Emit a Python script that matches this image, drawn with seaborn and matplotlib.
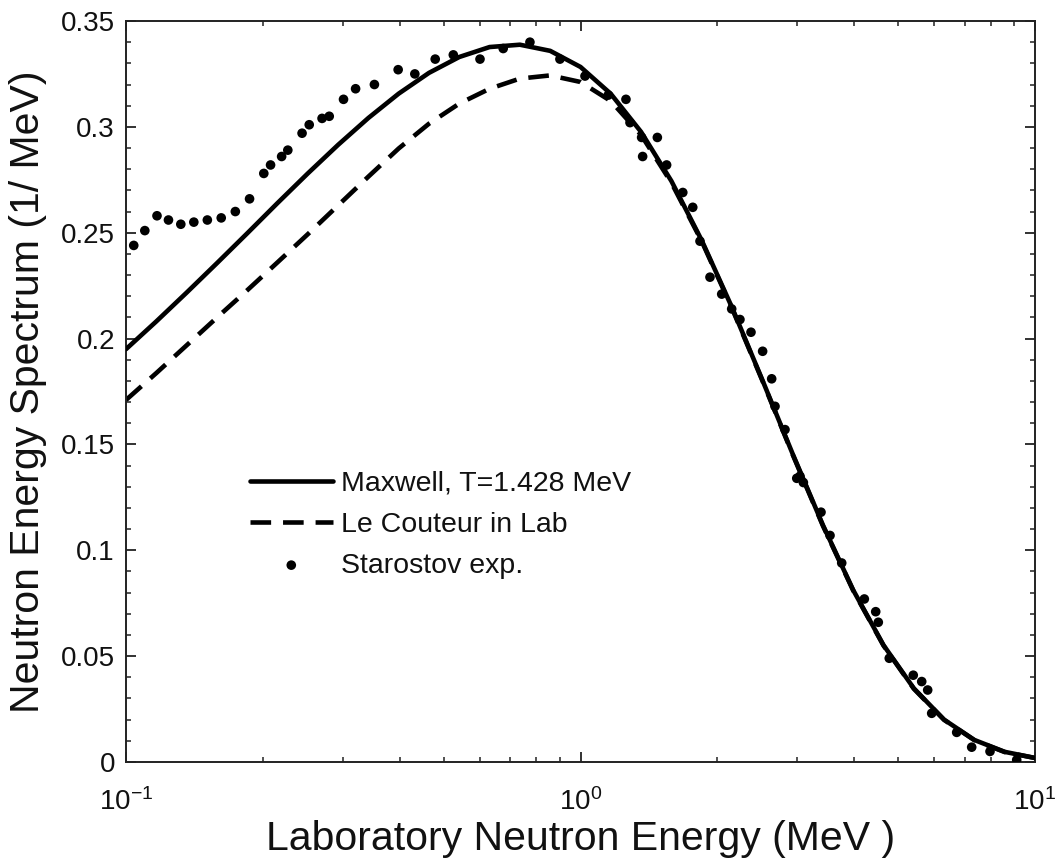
import matplotlib
matplotlib.use("Agg")
import matplotlib.pyplot as plt
import seaborn as sns
import numpy as np
import pandas as pd
from matplotlib.ticker import MultipleLocator, LogLocator, LogFormatterSciNotation, NullFormatter

# ---- data ----
energy_grid = [0.1, 0.11659, 0.13594, 0.15849, 0.18478, 0.21544, 0.25119, 0.29286,
               0.34145, 0.39811, 0.46416, 0.54117, 0.63096, 0.73564, 0.85770, 1.0,
               1.16591, 1.35936, 1.58489, 1.84785, 2.15443, 2.51189, 2.92864, 3.41455,
               3.98107, 4.64159, 5.41170, 6.30957, 7.35642, 8.57696, 10.0]
maxwell = [0.1950, 0.2081, 0.2217, 0.2356, 0.2497, 0.2640, 0.2780, 0.2915,
           0.3042, 0.3157, 0.3255, 0.3330, 0.3377, 0.3388, 0.3359, 0.3283,
           0.3156, 0.2976, 0.2744, 0.2464, 0.2147, 0.1805, 0.1456, 0.1119,
           0.0812, 0.0552, 0.0348, 0.0200, 0.0104, 0.0048, 0.0019]
lecouteur = [0.1710, 0.1837, 0.1968, 0.2099, 0.2228, 0.2360, 0.2493, 0.2629,
             0.2765, 0.2898, 0.3015, 0.3110, 0.3180, 0.3228, 0.3243, 0.3212,
             0.3122, 0.2962, 0.2736, 0.2460, 0.2143, 0.1802, 0.1453, 0.1116,
             0.0810, 0.0550, 0.0346, 0.0199, 0.0103, 0.0047, 0.0019]

exp_energy = [0.104, 0.110, 0.117, 0.124, 0.132, 0.141, 0.151, 0.162, 0.174, 0.187,
              0.201, 0.208, 0.220, 0.227, 0.244, 0.253, 0.270, 0.280, 0.301, 0.320,
              0.352, 0.397, 0.432, 0.479, 0.525, 0.601, 0.676, 0.774, 0.901, 1.023,
              1.151, 1.259, 1.285, 1.363, 1.476, 1.370, 1.547, 1.679, 1.766, 1.832,
              1.927, 2.045, 2.151, 2.243, 2.372, 2.516, 2.634, 2.679, 2.818, 3.040,
              2.991, 3.093, 3.382, 3.540, 3.756, 4.212, 4.462, 4.521, 4.779, 5.397,
              5.633, 5.806, 5.925, 6.725, 7.256, 7.962, 9.115]
exp_spectrum = [0.244, 0.251, 0.258, 0.256, 0.254, 0.255, 0.256, 0.257, 0.260, 0.266,
                0.278, 0.282, 0.286, 0.289, 0.297, 0.301, 0.304, 0.305, 0.313, 0.318,
                0.320, 0.327, 0.325, 0.332, 0.334, 0.332, 0.337, 0.340, 0.332, 0.324,
                0.315, 0.313, 0.302, 0.295, 0.295, 0.286, 0.282, 0.269, 0.262, 0.246,
                0.229, 0.221, 0.214, 0.209, 0.203, 0.194, 0.181, 0.168, 0.157, 0.135,
                0.134, 0.132, 0.118, 0.107, 0.094, 0.077, 0.071, 0.066, 0.049, 0.041,
                0.038, 0.034, 0.023, 0.014, 0.007, 0.005, 0.001]

labels = ["Maxwell, T=1.428 MeV", "Le Couteur in Lab", "Starostov exp."]
x_label = "Laboratory Neutron Energy (MeV )"
y_label = "Neutron Energy Spectrum (1/ MeV)"

# ---- style ----
sns.set_style("ticks")
plt.rcParams["font.family"] = ["Liberation Sans", "DejaVu Sans"]
plt.rcParams["mathtext.fontset"] = "custom"
plt.rcParams["mathtext.rm"] = "Liberation Sans"
plt.rcParams["mathtext.it"] = "Liberation Sans"
plt.rcParams["mathtext.default"] = "regular"
plt.rcParams["text.color"] = "#111111"

fig = plt.figure(figsize=(10.61, 8.59), dpi=100)
ax = fig.add_axes([126/1061, 1 - 762/859, (1035-126)/1061, (762-21)/859])

df_lines = pd.DataFrame({"E": energy_grid, "maxwell": maxwell, "lecouteur": lecouteur})
df_exp = pd.DataFrame({"E": exp_energy, "S": exp_spectrum})

sns.lineplot(data=df_lines, x="E", y="maxwell", ax=ax, color="black", lw=3.3,
             label=labels[0], zorder=3)
sns.lineplot(data=df_lines, x="E", y="lecouteur", ax=ax, color="black", lw=3.3,
             label=labels[1], zorder=2)
ax.lines[1].set_dashes([4.5, 2.6])
sns.scatterplot(data=df_exp, x="E", y="S", ax=ax, color="black", s=48,
                edgecolor="none", label=labels[2], zorder=4)

ax.set_xscale("log")
ax.set_xlim(0.1, 10)
ax.set_ylim(0, 0.35)
ax.yaxis.set_minor_locator(MultipleLocator(0.01))
ax.set_yticks([0, 0.05, 0.1, 0.15, 0.2, 0.25, 0.3, 0.35])
ax.set_yticklabels(["0", "0.05", "0.1", "0.15", "0.2", "0.25", "0.3", "0.35"])
ax.xaxis.set_major_locator(LogLocator(base=10))
ax.xaxis.set_major_formatter(LogFormatterSciNotation())
ax.xaxis.set_minor_locator(LogLocator(base=10, subs=np.arange(2, 10)))
ax.xaxis.set_minor_formatter(NullFormatter())

ax.tick_params(which="both", direction="in", top=True, right=True, colors="#222222",
               labelcolor="#111111")
ax.tick_params(which="major", length=7, width=1.3, labelsize=20)
ax.tick_params(axis="y", which="major", pad=8)
ax.tick_params(axis="x", which="major", pad=19)
ax.tick_params(which="minor", length=3.5, width=1.1)
for sp in ax.spines.values():
    sp.set_linewidth(1.4)
    sp.set_color("#222222")
    sp.set_visible(True)

ax.set_xlabel(x_label, fontsize=29.5, labelpad=3, color="#111111")
ax.set_ylabel(y_label, fontsize=29.5, labelpad=10, color="#111111")

leg = ax.legend(loc="upper left", bbox_to_anchor=((250 - 126) / 909, 1 - (471 - 21) / 741),
                frameon=False, fontsize=20.5, handlelength=2.9, handletextpad=0.28,
                borderpad=0, borderaxespad=0, labelspacing=0.52, markerscale=1.0)
for t in leg.get_texts():
    t.set_color("#111111")

fig.savefig("out.png", dpi=100)
